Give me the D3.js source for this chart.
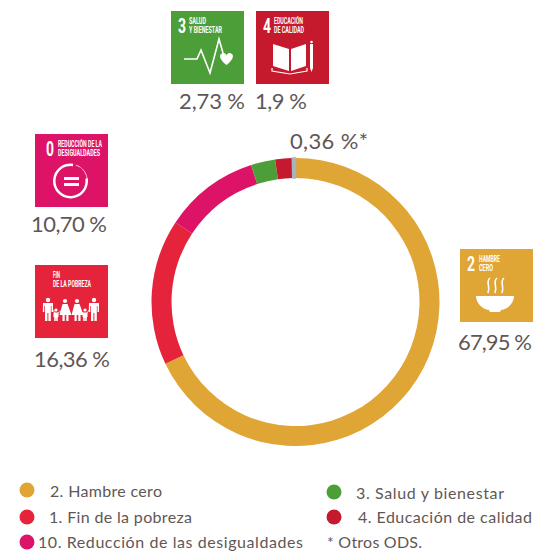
<!DOCTYPE html>
<html>
<head>
<meta charset="utf-8">
<script src="https://cdnjs.cloudflare.com/ajax/libs/d3/7.8.5/d3.min.js"></script>
<style>
  html, body { margin: 0; padding: 0; background: #fff; }
  svg { display: block; }
  text { font-family: "Lato", "Noto Sans", sans-serif; fill: #5f5755; }
  .tile-title { font-family: "Roboto", sans-serif; font-weight: 700; fill: #fff; }
</style>
</head>
<body>
<svg id="chart"></svg>
<script>
// ODS shares, clockwise from 12 o'clock
var names = ["2. Hambre cero", "1. Fin de la pobreza", "10. Reducción de las desigualdades",
             "3. Salud y bienestar", "4. Educación de calidad", "* Otros ODS."];
var shares = [67.95, 16.36, 10.70, 2.73, 1.9, 0.36];
var shareLabels = ["67,95 %", "16,36 %", "10,70 %", "2,73 %", "1,9 %", "0,36 %*"];
var colors = ["#dfa535", "#e5243b", "#dd1367", "#4c9f38", "#c5192d", "#a8b5c0"];

var width = 534;
var height = 551;
var svg = d3.select("#chart").attr("width", width).attr("height", height);

// ring
var pie = d3.pie().sort(null).value(d => d);
var arc = d3.arc().innerRadius(124).outerRadius(144);

svg.append("g")
    .attr("transform", "translate(295.5,302)")
  .selectAll("path")
  .data(pie(shares))
  .enter()
  .append("path")
    .attr("d", arc)
    .attr("fill", (d, i) => colors[i])
    .attr("stroke", (d, i) => i == 5 ? colors[i] : "none")   // sliver is too thin otherwise
    .attr("stroke-width", 1.4);

// share labels: x, baseline, width
var labelPos = [[458, 350, 74], [34, 367, 76], [31, 232, 76], [179, 109, 66], [255, 109, 52], [290, 149, 78]];
svg.append("g")
  .selectAll("text")
  .data(shareLabels)
  .enter()
  .append("text")
    .attr("x", (d, i) => labelPos[i][0])
    .attr("y", (d, i) => labelPos[i][1])
    .attr("textLength", (d, i) => labelPos[i][2])
    .attr("font-size", 22)
    .text(d => d);

// ODS tiles
var tile = 73;
function addTile(x, y, color, num, lines, icon) {
  var g = svg.append("g").attr("transform", `translate(${x},${y})`);
  g.append("rect").attr("width", tile).attr("height", tile).attr("fill", color);
  if (num) {
    g.append("text").attr("class", "tile-title")
      .attr("x", num.x).attr("y", 21.5)
      .attr("font-size", 20)
      .attr("textLength", 8)
      .attr("lengthAdjust", "spacingAndGlyphs")
      .text(num.t);
  }
  lines.forEach((l, i) => {
    g.append("text").attr("class", "tile-title")
      .attr("x", l.x).attr("y", 13 + i * 8.5)
      .attr("font-size", 9.5)
      .attr("textLength", l.w)
      .attr("lengthAdjust", "spacingAndGlyphs")
      .text(l.t);
  });
  icon(g);
}

function healthIcon(g) {
  g.append("path")
    .attr("d", "M13 48H26L30 39L39 62L48 28L52 42")
    .attr("fill", "none").attr("stroke", "#fff").attr("stroke-width", 1.6);
  g.append("path")
    .attr("d", "M55.5 54C49 49 48 45 50 43C52 41 55 42 55.5 44.5C56 42 59 41 61 43C63 45 62 49 55.5 54Z")
    .attr("fill", "#fff");
}

function bookIcon(g) {
  g.append("path")
    .attr("d", "M17 33L33 38V60L17 55ZM50 33L35 38V60L50 55Z")
    .attr("fill", "#fff");
  g.append("path")
    .attr("d", "M16 57V60L34 63L51 60V57")
    .attr("fill", "none").attr("stroke", "#fff").attr("stroke-width", 1.2);
  g.append("path").attr("d", "M54 33h3v24l-1.5 4l-1.5-4Z").attr("fill", "#fff");
  g.append("circle").attr("cx", 55.5).attr("cy", 31).attr("r", 1.3).attr("fill", "#fff");
}

function equalIcon(g) {
  var ringArc = d3.arc();
  g.append("path")
    .attr("transform", "translate(35.5,47)")
    .attr("d", ringArc({innerRadius: 15, outerRadius: 17.5, startAngle: Math.PI * 0.45, endAngle: Math.PI * 2.05}))
    .attr("fill", "#fff");
  g.append("path")
    .attr("transform", "translate(35.5,47)")
    .attr("d", ringArc({innerRadius: 16.6, outerRadius: 17.2, startAngle: Math.PI * 0.1, endAngle: Math.PI * 0.5}))
    .attr("fill", "#fff");
  g.append("rect").attr("x", 29).attr("y", 43).attr("width", 15).attr("height", 3).attr("fill", "#fff");
  g.append("rect").attr("x", 29).attr("y", 49).attr("width", 15).attr("height", 3).attr("fill", "#fff");
}

function familyIcon(g) {
  function man(x) {
    g.append("circle").attr("cx", x).attr("cy", 35).attr("r", 2.2).attr("fill", "#fff");
    g.append("path")
      .attr("d", `M${x - 5} 38h10v9h-1.5v-6h-.7v15h-2.4v-8h-1v8h-2.4v-15h-.7v6h-1.5Z`)
      .attr("fill", "#fff");
  }
  function woman(x) {
    g.append("circle").attr("cx", x).attr("cy", 36).attr("r", 2.1).attr("fill", "#fff");
    g.append("path")
      .attr("d", `M${x - 2.5} 39h5l4 11h-3v6h-2.2v-6h-1.6v6h-2.2v-6h-3Z`)
      .attr("fill", "#fff");
  }
  function kid(x) {
    g.append("circle").attr("cx", x).attr("cy", 45).attr("r", 1.6).attr("fill", "#fff");
    g.append("path")
      .attr("d", `M${x - 2.5} 47.5h5v4.5h-.7v4h-1.6v-3h-.4v3h-1.6v-4h-.7Z`)
      .attr("fill", "#fff");
  }
  man(13); man(59);
  woman(30); woman(42);
  kid(21); kid(50);
  g.append("path").attr("d", "M18 45L20 48M23 48L27 45M45 45L48 48M52 48L54 45")
    .attr("stroke", "#fff").attr("stroke-width", 0.8);
}

function bowlIcon(g) {
  g.append("path")
    .attr("d", "M16 47H54C54 54 48 60 41 61L40 63H30L29 61C22 60 16 54 16 47Z")
    .attr("fill", "#fff");
  [28, 35, 42].forEach(x => {
    g.append("path")
      .attr("d", `M${x + 2} 29C${x - 3} 33 ${x + 3} 37 ${x} 44`)
      .attr("fill", "none").attr("stroke", "#fff").attr("stroke-width", 1.6);
  });
}

addTile(460, 249, colors[0], {x: 7, t: "2"}, [{x: 19, w: 21, t: "HAMBRE"}, {x: 19, w: 14, t: "CERO"}], bowlIcon);
addTile(35, 265, colors[1], null, [{x: 18, w: 7, t: "FIN"}, {x: 18, w: 38, t: "DE LA POBREZA"}], familyIcon);
addTile(35, 134, colors[2], {x: 11, t: "0"}, [{x: 23, w: 44, t: "REDUCCIÓN DE LA"}, {x: 23, w: 42, t: "DESIGUALDADES"}], equalIcon);
addTile(171, 11, colors[3], {x: 7, t: "3"}, [{x: 18, w: 17, t: "SALUD"}, {x: 18, w: 33, t: "Y BIENESTAR"}], healthIcon);
addTile(256, 11, colors[4], {x: 7, t: "4"}, [{x: 18, w: 29, t: "EDUCACIÓN"}, {x: 18, w: 30, t: "DE CALIDAD"}], bookIcon);

// legend
var legendDots = [[27, 490], [27, 517], [27, 542], [334, 492], [334, 517]];
var legendText = [[50, 497, 112], [49, 523, 143], [38, 548, 265], [356, 499, 148], [358, 523, 174], [327, 548, 95]];

svg.append("g")
  .selectAll("circle")
  .data(legendDots)
  .enter()
  .append("circle")
    .attr("cx", d => d[0])
    .attr("cy", d => d[1])
    .attr("r", 7.5)
    .attr("fill", (d, i) => colors[i]);

svg.append("g")
  .selectAll("text")
  .data(names)
  .enter()
  .append("text")
    .attr("x", (d, i) => legendText[i][0])
    .attr("y", (d, i) => legendText[i][1])
    .attr("textLength", (d, i) => legendText[i][2])
    .attr("font-size", 16)
    .text(d => d);
</script>
</body>
</html>
